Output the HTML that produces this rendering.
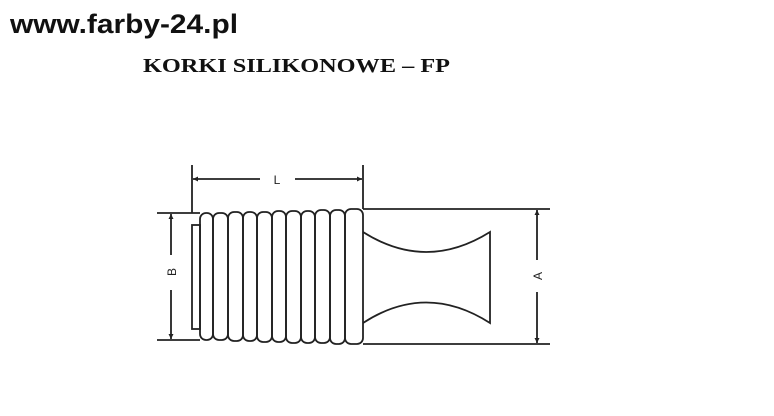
<!DOCTYPE html>
<html><head><meta charset="utf-8"><style>
html,body{margin:0;padding:0;background:#fff;width:774px;height:416px;overflow:hidden}
</style></head><body>
<svg width="774" height="416" viewBox="0 0 774 416" xmlns="http://www.w3.org/2000/svg">
<defs>
<marker id="ar" viewBox="0 0 10 10" refX="10" refY="5" markerWidth="7" markerHeight="5" orient="auto-start-reverse" markerUnits="userSpaceOnUse"><path d="M0,0 L10,5 L0,10 z" fill="#222"/></marker>
</defs>
<text x="10" y="33" font-family="Liberation Sans, sans-serif" font-weight="bold" font-size="27" fill="#111" textLength="228" lengthAdjust="spacingAndGlyphs">www.farby-24.pl</text>
<text x="143" y="72" font-family="Liberation Serif, serif" font-weight="bold" font-size="20" fill="#111" textLength="307" lengthAdjust="spacingAndGlyphs">KORKI SILIKONOWE – FP</text>
<g stroke="#222" stroke-width="1.8" fill="none">
<line x1="192" y1="165" x2="192" y2="213"/>
<line x1="363" y1="165" x2="363" y2="209"/>
<line x1="260" y1="179" x2="193" y2="179" marker-end="url(#ar)"/>
<line x1="295" y1="179" x2="362" y2="179" marker-end="url(#ar)"/>
<line x1="157" y1="213" x2="200" y2="213"/>
<line x1="157" y1="340" x2="200" y2="340"/>
<line x1="171" y1="255" x2="171" y2="214" marker-end="url(#ar)"/>
<line x1="171" y1="290" x2="171" y2="339" marker-end="url(#ar)"/>
<rect x="192" y="225" width="8" height="104"/>
<rect x="200" y="213" width="13" height="127" rx="6"/>
<rect x="213" y="213" width="15" height="127" rx="6"/>
<rect x="228" y="212" width="15" height="129" rx="6"/>
<rect x="243" y="212" width="14" height="129" rx="6"/>
<rect x="257" y="212" width="15" height="130" rx="6"/>
<rect x="272" y="211" width="14" height="131" rx="6"/>
<rect x="286" y="211" width="15" height="132" rx="6"/>
<rect x="301" y="211" width="14" height="132" rx="6"/>
<rect x="315" y="210" width="15" height="133" rx="6"/>
<rect x="330" y="210" width="15" height="134" rx="6"/>
<rect x="345" y="209" width="18" height="135" rx="6"/>
<line x1="363" y1="209" x2="550" y2="209"/>
<line x1="363" y1="344" x2="550" y2="344"/>
<path d="M363,232 Q426,272 490,232 L490,323 Q426,282 363,323"/>
<line x1="537" y1="260" x2="537" y2="210" marker-end="url(#ar)"/>
<line x1="537" y1="292" x2="537" y2="343" marker-end="url(#ar)"/>
</g>
<text x="277" y="184" font-family="Liberation Sans, sans-serif" font-size="12" fill="#222" text-anchor="middle">L</text>
<text transform="translate(176,272) rotate(-90)" font-family="Liberation Sans, sans-serif" font-size="12" fill="#222" text-anchor="middle">B</text>
<text transform="translate(542,276) rotate(-90)" font-family="Liberation Sans, sans-serif" font-size="12" fill="#222" text-anchor="middle">A</text>
</svg>
</body></html>
